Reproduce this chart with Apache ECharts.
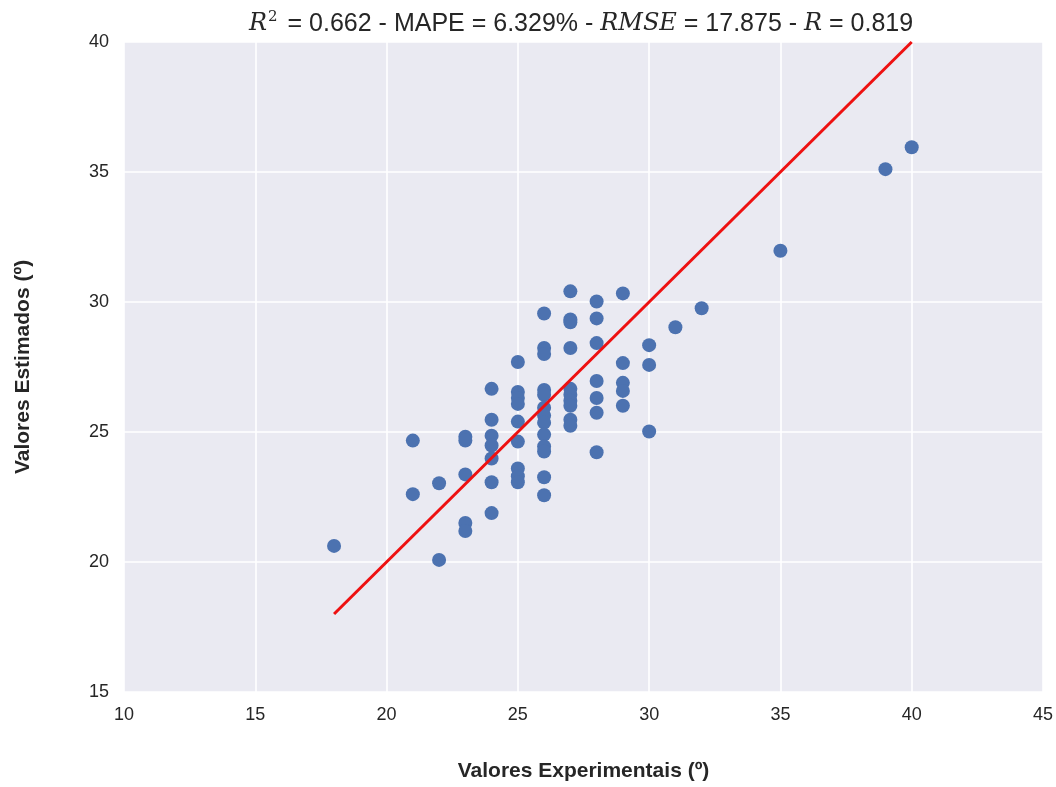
<!DOCTYPE html>
<html><head><meta charset="utf-8">
<script src="https://cdn.jsdelivr.net/npm/echarts@6/dist/echarts.min.js"></script>
<style>html,body{margin:0;padding:0;background:#fff;overflow:hidden}#c{width:1056px;height:787px}</style>
</head><body><div id="c"></div>
<script>
const experimental = [18,21,21,22,22,23,23,23,23,23,
  24,24,24,24,24,24,24,
  25,25,25,25,25,25,25,25,25,
  26,26,26,26,26,26,26,26,26,26,26,26,26,
  27,27,27,27,27,27,27,27,27,27,
  28,28,28,28,28,28,28,
  29,29,29,29,29,
  30,30,30,31,32,35,39,40];
const estimated = [20.62,24.67,22.61,23.03,20.08,24.82,24.67,23.37,21.5,21.19,
  26.66,25.47,24.86,24.48,23.98,23.07,21.88,
  27.69,26.54,26.31,26.08,25.4,24.63,23.6,23.3,23.07,
  29.56,28.23,28.0,26.62,26.43,25.93,25.63,25.36,24.9,24.44,24.25,23.26,22.57,
  30.41,29.33,29.22,28.23,26.66,26.43,26.2,26.01,25.47,25.24,
  30.02,29.37,28.42,26.96,26.31,25.74,24.22,
  30.33,27.65,26.89,26.58,26.01,
  28.34,27.58,25.02,29.03,29.76,31.97,35.11,35.95];
const refLine = [[18,18],[40,40]];
const xTicks = [10,15,20,25,30,35,40,45];
const yTicks = [15,20,25,30,35,40];

const chart = echarts.init(document.getElementById('c'));
const font = '"Liberation Sans", Arial, sans-serif';
const serif = '"DejaVu Serif", "Liberation Serif", serif';
chart.setOption({
  backgroundColor:'#fff',
  animation:false,
  title:{
    left:244, top:3,
    text:'{i|R}{sup|2}{n| = 0.662 - MAPE = 6.329% - }{i|RMSE}{n| = 17.875 - }{i|R}{n| = 0.819}',
    textStyle:{
      fontWeight:'normal',
      rich:{
        n:{fontFamily:font,fontWeight:'normal',fontSize:25,color:'#262626',lineHeight:32},
        i:{fontFamily:serif,fontStyle:'italic',fontWeight:'normal',fontSize:24,color:'#262626',lineHeight:32},
        sup:{fontFamily:serif,fontWeight:'normal',fontSize:15,color:'#262626',lineHeight:32,padding:[0,3,13,1]}
      }
    }
  },
  grid:{left:124,right:13,top:42,bottom:91,show:true,backgroundColor:'#EAEAF2',borderWidth:0},
  xAxis:{
    type:'value',min:xTicks[0],max:xTicks[xTicks.length-1],interval:5,
    name:'Valores Experimentais (º)',nameLocation:'middle',nameGap:69,
    nameTextStyle:{fontFamily:font,fontWeight:'bold',fontSize:21,color:'#262626'},
    axisLine:{show:false},axisTick:{show:false},
    axisLabel:{fontFamily:font,fontSize:18,color:'#262626',margin:14},
    splitLine:{lineStyle:{color:'#fff',width:1.6}}
  },
  yAxis:{
    type:'value',min:yTicks[0],max:yTicks[yTicks.length-1],interval:5,
    name:'Valores Estimados (º)',nameLocation:'middle',nameGap:90,
    nameTextStyle:{fontFamily:font,fontWeight:'bold',fontSize:21,color:'#262626'},
    axisLine:{show:false},axisTick:{show:false},
    axisLabel:{fontFamily:font,fontSize:18,color:'#262626',margin:15},
    splitLine:{lineStyle:{color:'#fff',width:1.6}}
  },
  series:[
    {type:'scatter',data:experimental.map((x,i)=>[x,estimated[i]]),symbolSize:14,
     itemStyle:{color:'#4C72B0',opacity:1},z:2},
    {type:'line',data:refLine,symbol:'none',lineStyle:{color:'#EE1111',width:3},z:3}
  ]
});
</script></body></html>
